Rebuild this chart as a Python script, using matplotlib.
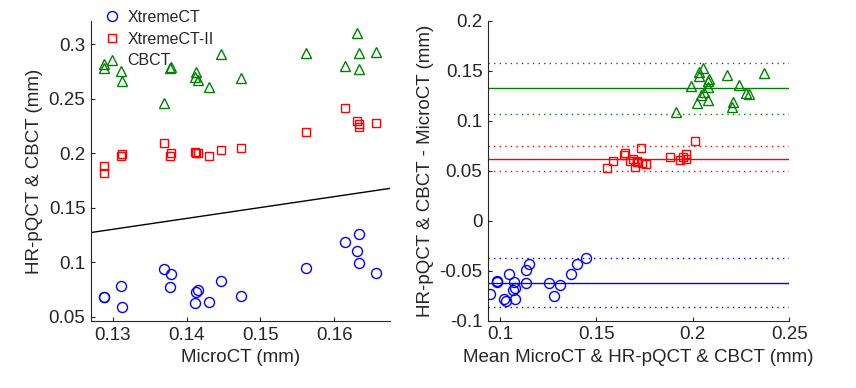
import numpy as np
import matplotlib
matplotlib.use("Agg")
import matplotlib.pyplot as plt

plt.rcParams['font.family'] = ['Liberation Sans', 'DejaVu Sans']

# MicroCT reference thickness (mm), one value per sample
micro = [0.1288, 0.1288, 0.1311, 0.1313, 0.1369, 0.1378, 0.1379, 0.1411, 0.1413, 0.1416,
         0.1430, 0.1447, 0.1473, 0.1562, 0.1615, 0.1631, 0.1633, 0.1633, 0.1657]
# HR-pQCT / CBCT thickness (mm)
xtreme1 = [0.0682, 0.0680, 0.0780, 0.0584, 0.0936, 0.0768, 0.0890, 0.0627, 0.0722, 0.0743,
           0.0633, 0.0828, 0.0688, 0.0942, 0.1181, 0.1104, 0.1257, 0.0991, 0.0902]
xtreme2 = [0.1883, 0.1817, 0.1972, 0.1988, 0.2094, 0.1972, 0.1997, 0.2012, 0.2003, 0.2003,
           0.1972, 0.2028, 0.2043, 0.2197, 0.2410, 0.2296, 0.2266, 0.2236, 0.2272]
cbct = [0.2817, 0.2777, 0.2755, 0.2663, 0.2456, 0.2777, 0.2792, 0.2700, 0.2746, 0.2670,
        0.2608, 0.2908, 0.2685, 0.2920, 0.2798, 0.3104, 0.2914, 0.2768, 0.2929]

series_names = ['XtremeCT', 'XtremeCT-II', 'CBCT']
left_xticks = [0.13, 0.14, 0.15, 0.16]
left_yticks = [0.05, 0.1, 0.15, 0.2, 0.25, 0.3]
right_xticks = [0.1, 0.15, 0.2, 0.25]
right_yticks = [-0.1, -0.05, 0, 0.05, 0.1, 0.15, 0.2]

def fmt(v):
    s = ('%.2f' % v).rstrip('0').rstrip('.')
    return '0' if s in ('-0', '0') else s

styles = [dict(marker='o', color='#0000ff', ms=7.2),
          dict(marker='s', color='#ff0000', ms=6.0),
          dict(marker='^', color='#008000', ms=7.4)]
TXT = '#262626'
FS = 13.5

fig = plt.figure(figsize=(8.56, 3.88), dpi=100)
axL = fig.add_axes([91/856, 67/388, 299/856, 300/388])
axR = fig.add_axes([488/856, 67.1/388, 301.3/856, 300.2/388])

micro_a = np.array(micro)
data = [np.array(xtreme1), np.array(xtreme2), np.array(cbct)]

# Left: scatter vs MicroCT with identity line
xlimL = (0.12706, 0.16754)
for d, st, name in zip(data, styles, series_names):
    axL.plot(micro_a, d, linestyle='none', marker=st['marker'], ms=st['ms'],
             mfc='none', mec=st['color'], mew=1.0, label=name)
axL.plot(xlimL, xlimL, color='black', lw=1.0)
axL.set_xlim(*xlimL)
axL.set_ylim(0.0459, 0.3211)
axL.set_xticks(left_xticks)
axL.set_xticklabels([fmt(v) for v in left_xticks])
axL.set_yticks(left_yticks)
axL.set_yticklabels([fmt(v) for v in left_yticks])
axL.set_xlabel('MicroCT (mm)', fontsize=FS, color=TXT)
axL.set_ylabel('HR-pQCT & CBCT (mm)', fontsize=FS, color=TXT)

leg = axL.legend(loc='upper left', bbox_to_anchor=(104/856, 1 - 10/388),
                 bbox_transform=fig.transFigure, frameon=False, fontsize=11.5,
                 handlelength=1.0, handletextpad=0.45, labelspacing=0.42,
                 borderaxespad=0, borderpad=0)
for t in leg.get_texts():
    t.set_color(TXT)

# Right: Bland-Altman
xlimR = (0.0938, 0.25)
for d, st in zip(data, styles):
    mean = (micro_a + d) / 2
    diff = d - micro_a
    md = diff.mean()
    sd = diff.std(ddof=1)
    axR.plot(mean, diff, linestyle='none', marker=st['marker'], ms=st['ms'],
             mfc='none', mec=st['color'], mew=1.0)
    axR.plot(xlimR, [md, md], color=st['color'], lw=1.0)
    for lim in (md + 1.96 * sd, md - 1.96 * sd):
        axR.plot(xlimR, [lim, lim], color=st['color'], lw=1.0, dashes=(1, 3))
axR.set_xlim(*xlimR)
axR.set_ylim(-0.1, 0.2)
axR.set_xticks(right_xticks)
axR.set_xticklabels([fmt(v) for v in right_xticks])
axR.set_yticks(right_yticks)
axR.set_yticklabels([fmt(v) for v in right_yticks])
axR.set_xlabel('Mean MicroCT & HR-pQCT & CBCT (mm)', fontsize=FS, color=TXT)
axR.set_ylabel('HR-pQCT & CBCT - MicroCT (mm)', fontsize=FS, color=TXT)

for ax in (axL, axR):
    for s in ('top', 'right'):
        ax.spines[s].set_visible(False)
    for s in ('left', 'bottom'):
        ax.spines[s].set_color(TXT)
        ax.spines[s].set_linewidth(0.8)
    ax.tick_params(direction='in', length=3, width=0.8, colors=TXT,
                   labelsize=FS, labelcolor=TXT, pad=4)

fig.savefig('out.png', dpi=100)
